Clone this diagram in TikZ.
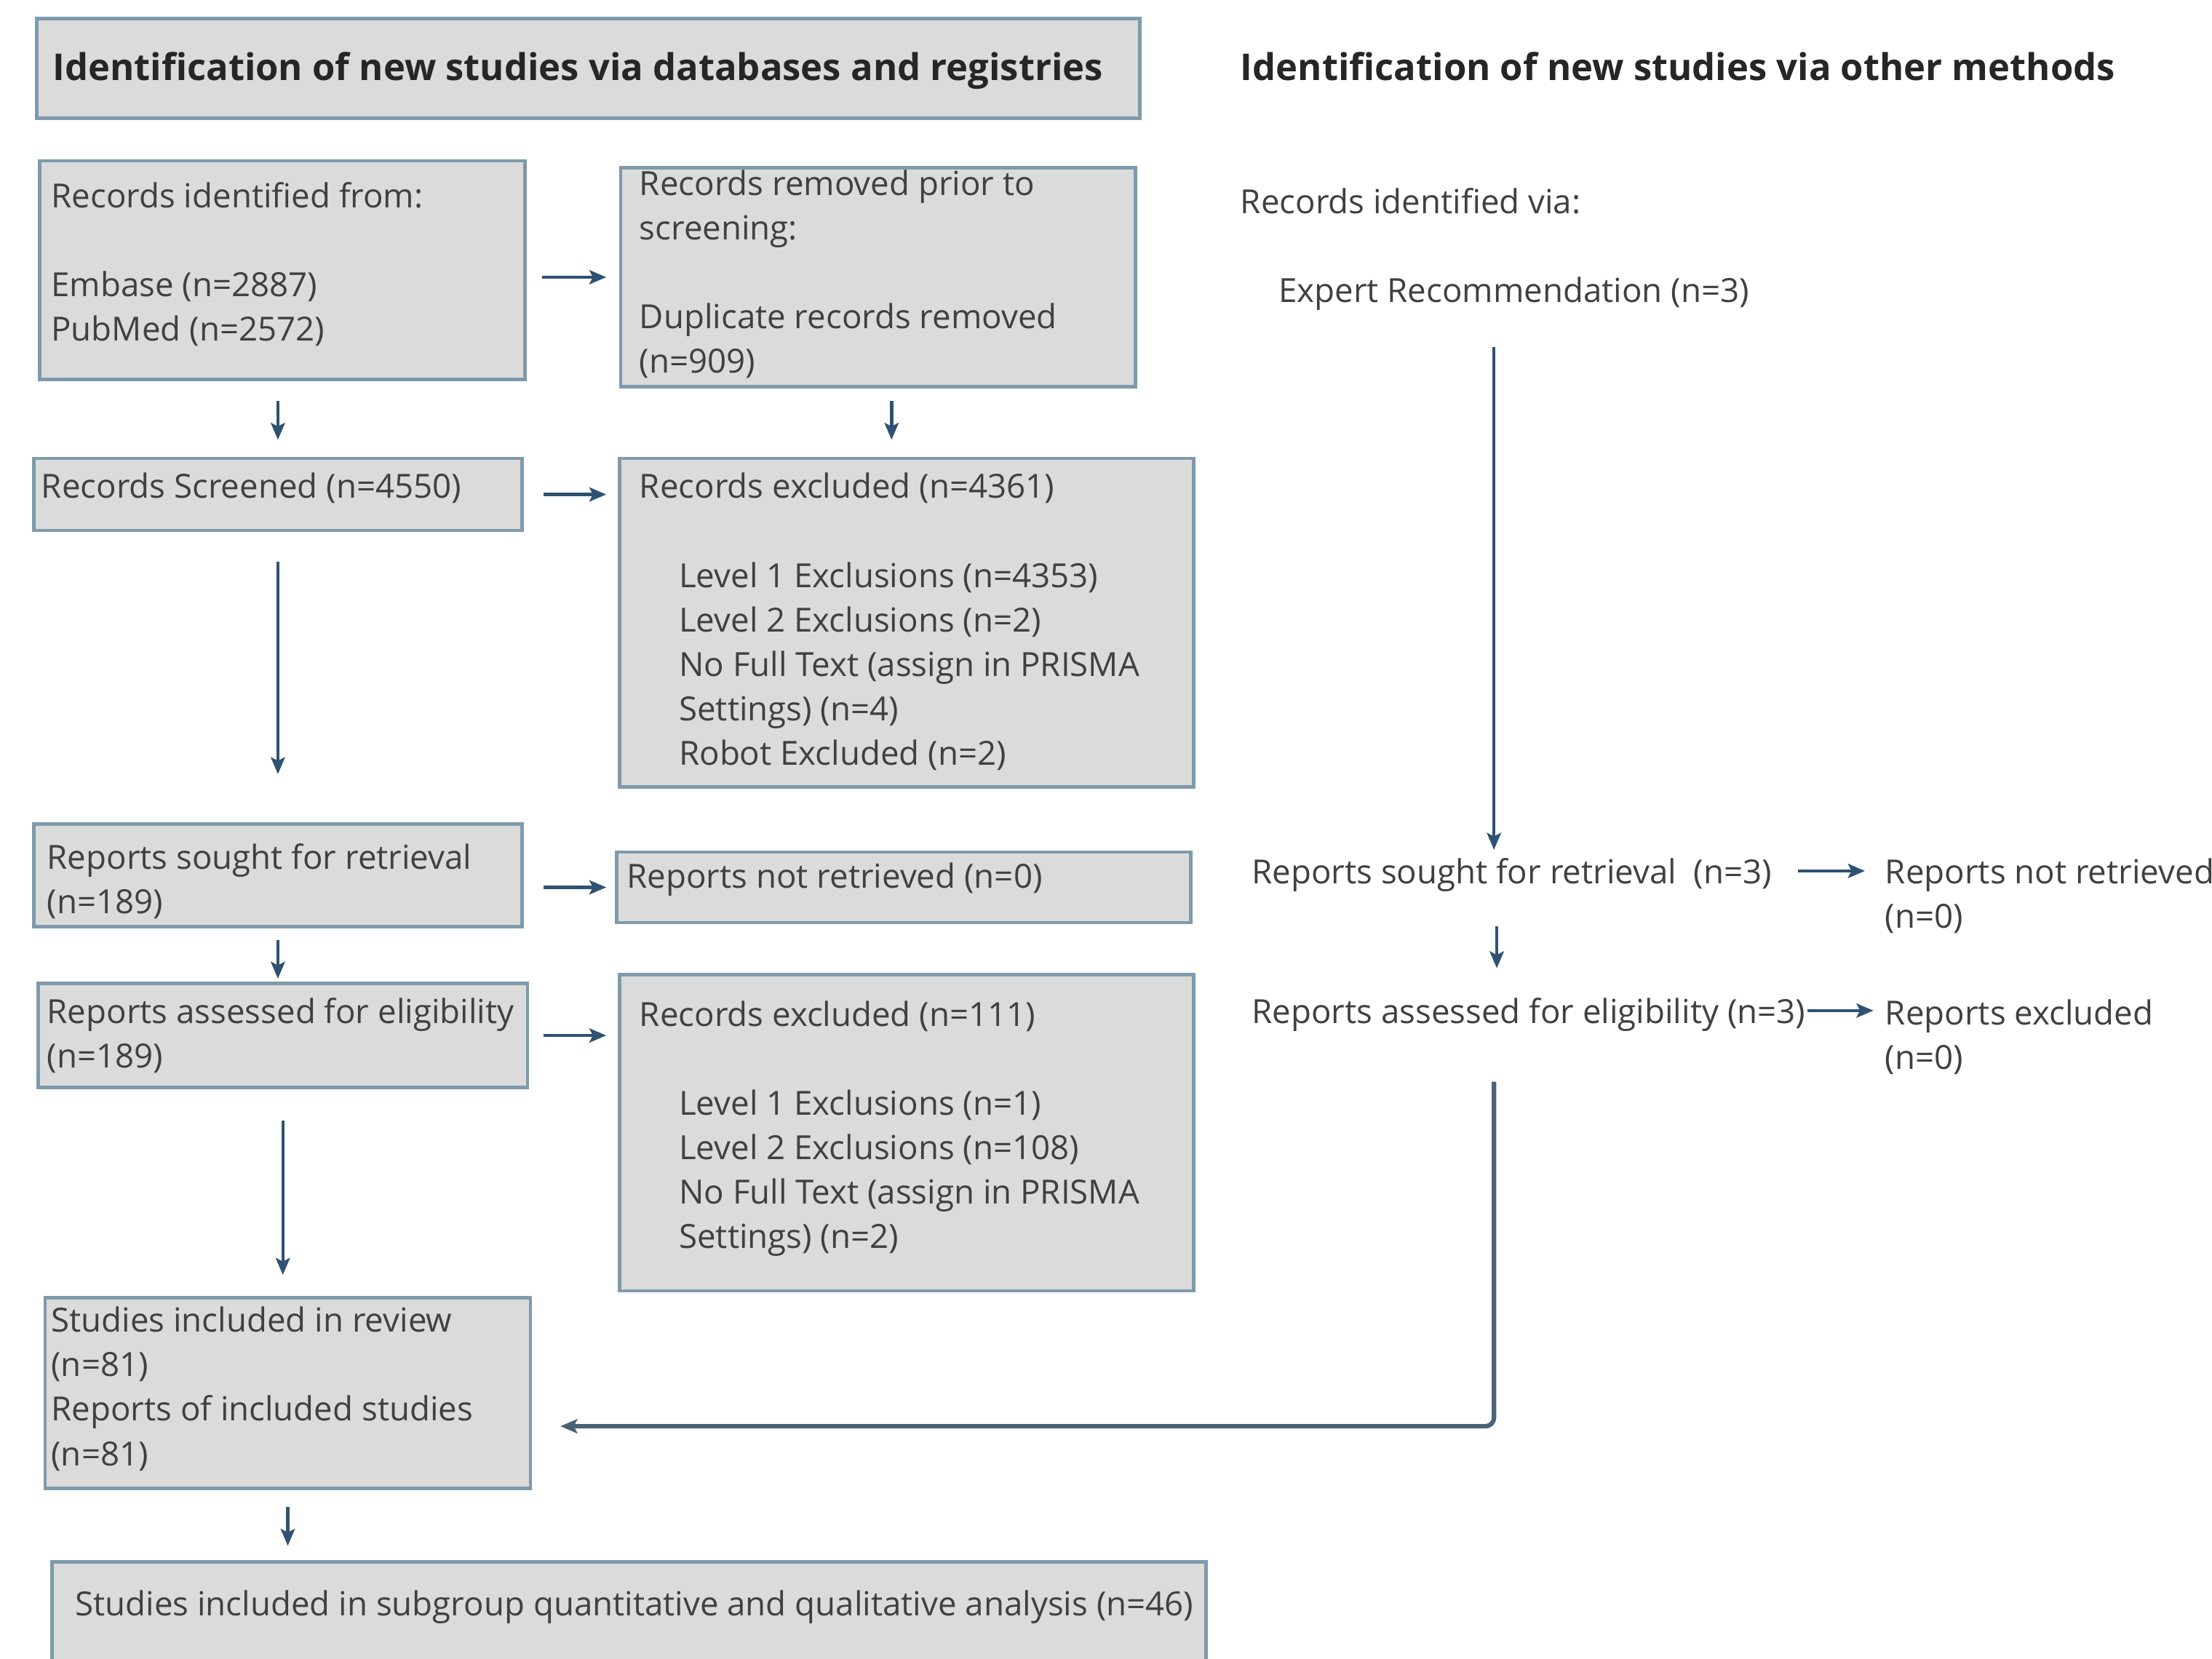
\documentclass[tikz,border=0pt]{standalone}
\usepackage{fontspec}
\setmainfont{Open Sans}
\usetikzlibrary{arrows.meta,fit,calc}
\definecolor{boxfill}{HTML}{DBDBDB}
\definecolor{boxline}{HTML}{7F9AAC}
\definecolor{arrcol}{HTML}{2F5273}
\definecolor{longcol}{HTML}{4A6276}
\definecolor{txtcol}{HTML}{404040}
\definecolor{headcol}{HTML}{262626}
\newcommand\firstline{\rule{0pt}{1em}}
\begin{document}
\begin{tikzpicture}[x=0.02cm, y=-0.02cm,
  box/.style={draw=boxline, line width=1.4pt, fill=boxfill, inner sep=0pt},
  txt/.style={anchor=north west, inner sep=0pt, align=left, text=txtcol, font=\fontsize{13.4}{17.93}\selectfont},
  head/.style={anchor=north west, inner sep=0pt, text=headcol, font=\fontsize{14.9}{17.93}\selectfont\bfseries},
  arr/.style={draw=arrcol, line width=1.3pt, -{Stealth[length=0.24cm,width=0.2cm,inset=0.05cm]}},
  longarr/.style={draw=longcol, line width=1.8pt, rounded corners=0.12cm, -{Stealth[length=0.24cm,width=0.2cm,inset=0.05cm]}}]
\useasboundingbox[fill=white] (0,0) rectangle (1568,1176);

% boxes
\node[box, fit={(26,13) (808,84)}] (hb) {};
\node[box, fit={(28,114) (372,269)}] (A) {};
\node[box, fit={(440,119) (805,274)}] (B) {};
\node[box, fit={(24,325) (370,376)}] (C) {};
\node[box, fit={(439,325) (846,558)}] (D) {};
\node[box, fit={(24,584) (370,657)}] (E) {};
\node[box, fit={(437,604) (844,654)}] (F) {};
\node[box, fit={(27,697) (374,771)}] (G) {};
\node[box, fit={(439,691) (846,915)}] (H) {};
\node[box, fit={(32,920) (376,1055)}] (I) {};
\node[box, fit={(37,1107) (855,1195)}] (J) {};

% headings
\node[head] (h1) at (37,30.7) {\firstline Identification of new studies via databases and registries};
\node[head] (h2) at (879,30.7) {\firstline Identification of new studies via other methods};

% box texts
\node[txt] (tA) at (36,123.4) {\firstline Records identified from:\\ \mbox{}\\ Embase (n=2887)\\ PubMed (n=2572)};
\node[txt] (tB) at (453,114.4) {\firstline Records removed prior to\\ screening:\\ \mbox{}\\ Duplicate records removed\\ (n=909)};
\node[txt] (tC) at (29,329.4) {\firstline Records Screened (n=4550)};
\node[txt] (tD) at (453,329.4) {\firstline Records excluded (n=4361)\\ \mbox{}\\
  \hspace*{0.56cm}Level 1 Exclusions (n=4353)\\
  \hspace*{0.56cm}Level 2 Exclusions (n=2)\\
  \hspace*{0.56cm}No Full Text (assign in PRISMA\\
  \hspace*{0.56cm}Settings) (n=4)\\
  \hspace*{0.56cm}Robot Excluded (n=2)};
\node[txt] (tE) at (33,592.4) {\firstline Reports sought for retrieval\\ (n=189)};
\node[txt] (tF) at (444,605.4) {\firstline Reports not retrieved (n=0)};
\node[txt] (tG) at (33,701.4) {\firstline Reports assessed for eligibility\\ (n=189)};
\node[txt] (tH) at (453,703.4) {\firstline Records excluded (n=111)\\ \mbox{}\\
  \hspace*{0.56cm}Level 1 Exclusions (n=1)\\
  \hspace*{0.56cm}Level 2 Exclusions (n=108)\\
  \hspace*{0.56cm}No Full Text (assign in PRISMA\\
  \hspace*{0.56cm}Settings) (n=2)};
\node[txt] (tI) at (36,920.4) {\firstline Studies included in review\\ (n=81)\\ Reports of included studies\\ (n=81)};
\node[txt] (tJ) at (53,1121.4) {\firstline Studies included in subgroup quantitative and qualitative analysis (n=46)};

% right column texts
\node[txt] (rv) at (879,127.4) {\firstline Records identified via:};
\node[txt] (er) at (906,190.4) {\firstline Expert Recommendation (n=3)};
\node[txt] (rs3) at (887,602.4) {\firstline Reports sought for retrieval\ \ (n=3)};
\node[txt] (rn) at (1336,602.4) {\firstline Reports not retrieved\\ (n=0)};
\node[txt] (ra3) at (887,701.4) {\firstline Reports assessed for eligibility (n=3)};
\node[txt] (rx) at (1336,702.4) {\firstline Reports excluded\\ (n=0)};

% helper coordinates
\coordinate (bx) at ([xshift=0.19cm]B.south);
\coordinate (xr) at (1059,0);
\coordinate (xr2) at (1061,0);
\coordinate (ij) at ([yshift=-0.47cm]I.east);

% left column arrows
\draw[arr, shorten <=0.22cm, shorten >=0.18cm] (A.east |- B.west) -- (B.west);
\draw[arr, shorten <=0.28cm, shorten >=0.24cm] (A.south -| C.north) -- (C.north);
\draw[arr, shorten <=0.18cm, shorten >=0.24cm] (bx) -- (bx |- D.north);
\draw[arr, shorten <=0.28cm, shorten >=0.16cm] (C.east) -- (C.east -| D.west);
\draw[arr, shorten <=0.42cm, shorten >=0.68cm] (C.south) -- (C.south |- E.north);
\draw[arr, shorten <=0.28cm, shorten >=0.12cm] (E.east |- F.west) -- (F.west);
\draw[arr, shorten <=0.16cm, shorten >=0.04cm] (E.south) -- (E.south |- G.north);
\draw[arr, shorten <=0.2cm, shorten >=0.16cm] (G.east) -- (G.east -| H.west);
\draw[arr, shorten <=0.44cm, shorten >=0.3cm] (G.south) -- (G.south |- I.north);
\draw[arr, shorten <=0.24cm, shorten >=0.2cm] (I.south) -- (I.south |- J.north);

% right column arrows
\draw[arr, shorten <=0.51cm] (er.south -| xr) -- (rs3.north -| xr);
\draw[arr, shorten <=0.36cm, shorten >=0.28cm] (rs3.east) -- (rs3.east -| rn.west);
\draw[arr, shorten <=0.49cm, shorten >=0.3cm] (rs3.south -| xr2) -- (ra3.north -| xr2);
\draw[arr, shorten <=0.02cm, shorten >=0.16cm] (ra3.east) -- (ra3.east -| rx.west);
\draw[longarr, shorten <=0.71cm, shorten >=0.4cm] (ra3.south -| xr) |- (ij);
\end{tikzpicture}
\end{document}
